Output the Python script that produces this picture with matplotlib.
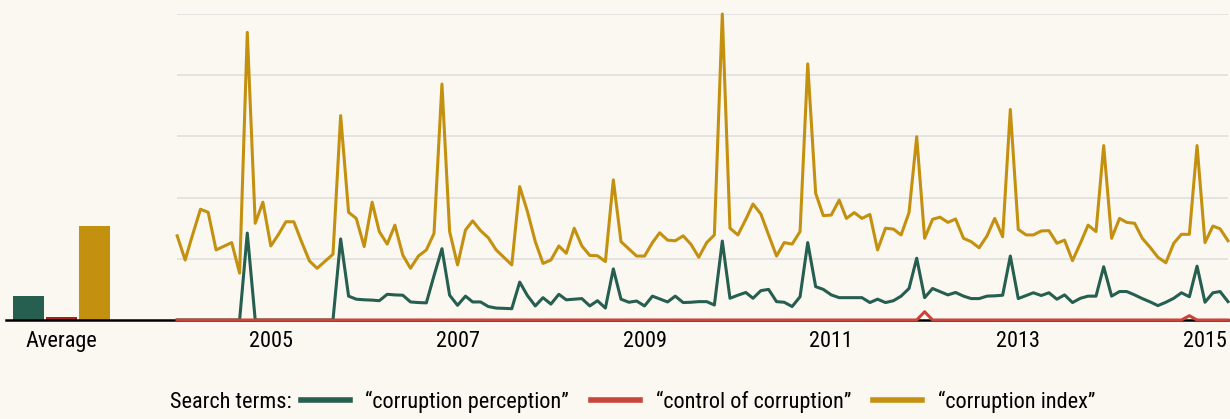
import numpy as np
import pandas as pd
import matplotlib
matplotlib.use("Agg")
import matplotlib.pyplot as plt
from matplotlib import font_manager

# Monthly search interest, Jan 2004 - Apr 2015 (0-100 scale)
months = pd.date_range("2004-01-01", periods=136, freq="MS")

corruption_index = [
    27.5, 19.6, 27.8, 36.2, 35.2, 22.9, 24.1, 25.3, 15.3, 94.0, 31.6, 38.5,
    24.2, 28.1, 32.1, 32.1, 25.6, 19.3, 16.9, 19.2, 21.5, 66.8, 35.2, 33.2,
    24.0, 38.5, 28.9, 24.8, 31.0, 21.2, 16.9, 20.9, 22.9, 28.3, 77.1, 28.9,
    18.0, 29.4, 32.4, 29.2, 26.9, 22.9, 20.5, 18.0, 43.6, 35.5, 25.6, 18.5,
    19.6, 24.2, 21.8, 30.0, 24.2, 21.1, 21.0, 19.1, 45.8, 25.6, 23.2, 20.9,
    20.9, 25.3, 28.5, 26.1, 25.9, 27.5, 24.8, 20.5, 25.3, 27.8, 100.0, 30.0,
    27.8, 32.9, 37.9, 34.6, 27.8, 20.9, 25.3, 24.8, 28.9, 83.7, 41.4, 34.1,
    34.3, 39.2, 33.2, 35.1, 33.2, 34.5, 22.9, 30.0, 29.7, 27.8, 35.1, 59.9,
    26.7, 32.9, 33.6, 31.9, 33.0, 26.7, 25.6, 23.6, 27.5, 33.2, 27.2, 68.8,
    29.6, 27.8, 27.8, 29.1, 29.2, 25.1, 26.1, 19.4, 25.1, 31.0, 28.9, 57.0,
    26.7, 33.2, 31.9, 31.6, 26.7, 23.7, 20.5, 18.7, 25.1, 28.0, 28.0, 57.0,
    25.3, 30.7, 29.8, 25.9,
]

corruption_perception = [
    0, 0, 0, 0, 0, 0, 0, 0, 0, 28.4, 0, 0,
    0, 0, 0, 0, 0, 0, 0, 0, 0, 26.5, 7.8, 6.8,
    6.6, 6.5, 6.3, 8.4, 8.2, 8.1, 5.9, 5.7, 5.6, 14.5, 23.3, 8.1,
    4.8, 7.8, 5.9, 5.9, 4.4, 3.9, 3.8, 3.7, 12.4, 8.0, 4.6, 7.3,
    5.2, 8.4, 6.6, 6.8, 7.0, 4.6, 6.3, 3.9, 16.7, 6.8, 5.8, 6.2,
    4.6, 7.8, 6.9, 5.9, 7.8, 5.7, 5.8, 6.0, 6.0, 4.9, 25.8, 7.1,
    8.1, 9.0, 7.1, 9.6, 10.0, 6.0, 5.8, 4.4, 7.6, 25.3, 10.9, 10.0,
    8.2, 7.3, 7.3, 7.3, 7.3, 5.7, 6.8, 5.7, 6.3, 7.8, 10.3, 20.2,
    7.3, 10.3, 9.3, 8.2, 9.0, 7.8, 7.0, 7.0, 7.8, 7.9, 8.1, 20.9,
    7.0, 8.0, 8.9, 8.0, 8.9, 6.8, 8.2, 5.7, 7.1, 7.8, 7.8, 17.4,
    7.8, 9.3, 9.3, 8.2, 7.0, 5.9, 4.7, 5.8, 7.1, 8.9, 7.6, 17.6,
    5.8, 8.9, 9.3, 6.0,
]

control_of_corruption = [0.0] * 136
control_of_corruption[96] = 2.7
control_of_corruption[130] = 1.4

# averages shown in the small left panel
avg_labels = ["perception", "control", "index"]
avg_values = [7.8, 1.1, 30.7]

year_ticks = [2005, 2007, 2009, 2011, 2013, 2015]

bg = "#fbf8f2"
green = "#265e50"
red = "#c9443a"
red_bar = "#a5231d"
gold = "#c49010"


# look for a condensed / narrow sans face, the original uses one
def pick_narrow_font():
    prefs = ["Roboto Condensed", "Open Sans Condensed", "Noto Sans", "DejaVu Sans",
             "Liberation Sans Narrow", "Roboto", "Open Sans"]
    found = []
    for f in font_manager.fontManager.ttflist:
        narrow = (str(f.stretch) in ("condensed", "semi-condensed", "extra-condensed")
                  or "Condensed" in f.name or "Narrow" in f.name
                  or "Condensed" in f.fname or "Narrow" in f.fname)
        if not narrow or f.style != "normal":
            continue
        if f.weight not in (400, "normal", "regular", "book"):
            continue
        rank = len(prefs)
        for i, p in enumerate(prefs):
            if f.name.startswith(p):
                rank = i
                break
        if "Mono" in f.name or "Serif" in f.name:
            rank += 20
        found.append((rank, f.fname))
    if not found:
        return None
    found.sort()
    return found[0][1]


narrow_path = pick_narrow_font()
if narrow_path:
    fp = font_manager.FontProperties(fname=narrow_path, size=16)
else:
    fp = font_manager.FontProperties(family="DejaVu Sans", size=13)

fig = plt.figure(figsize=(12.3, 4.19), dpi=100, facecolor=bg)

bottom = 99 / 419
height = 306 / 419

# left panel: averages
ax0 = fig.add_axes([6 / 1230, bottom, 171.2 / 1230, height], facecolor=bg)
ax0.bar(range(3), avg_values, width=0.94, color=[green, red_bar, gold], zorder=2)
ax0.set_xlim(-0.68, 4.51)
ax0.set_ylim(0, 100)
ax0.set_xticks([1])
ax0.set_xticklabels(["Average"], fontproperties=fp)
ax0.set_yticks([])
ax0.tick_params(axis="x", length=0, pad=8)
for s in ["top", "right", "left"]:
    ax0.spines[s].set_visible(False)
ax0.spines["bottom"].set_color("black")
ax0.spines["bottom"].set_linewidth(1.8)
ax0.spines["bottom"].set_zorder(3)

# main panel: monthly lines
ax = fig.add_axes([177.2 / 1230, bottom, (1228 - 177.2) / 1230, height], facecolor=bg)
lw = 2.2
ax.plot(months, corruption_perception, color=green, lw=lw, zorder=3,
        clip_on=False, label="\u201ccorruption perception\u201d")
ax.plot(months, control_of_corruption, color=red, lw=lw, zorder=4,
        clip_on=False, label="\u201ccontrol of corruption\u201d")
ax.plot(months, corruption_index, color=gold, lw=lw, zorder=3,
        clip_on=False, label="\u201ccorruption index\u201d")

ax.set_xlim(months[0], months[-1])
ax.set_ylim(0, 100)
ax.set_yticks([20, 40, 60, 80, 100])
ax.yaxis.grid(True, color="#dddddd", lw=1.1)
ax.set_axisbelow(True)
ax.tick_params(axis="y", length=0, labelleft=False)
ax.set_xticks([pd.Timestamp(f"{y}-01-01") for y in year_ticks])
ax.set_xticklabels([str(y) for y in year_ticks], fontproperties=fp)
ax.tick_params(axis="x", length=0, pad=8)
for s in ["top", "right", "left"]:
    ax.spines[s].set_visible(False)
ax.spines["bottom"].set_color("black")
ax.spines["bottom"].set_linewidth(1.8)
ax.spines["bottom"].set_zorder(2.5)

# legend
fig.text(170 / 1230, 17 / 419, "Search terms:", fontproperties=fp, va="center", ha="left")
handles, labels = ax.get_legend_handles_labels()
leg = fig.legend(handles, labels, loc="center left", bbox_to_anchor=(301 / 1230, 17 / 419),
                 ncol=3, frameon=False, prop=fp, handlelength=2.2,
                 handletextpad=0.7, columnspacing=1.0, borderpad=0, borderaxespad=0)
for line in leg.get_lines():
    line.set_linewidth(4)

fig.savefig("out.png", dpi=100, facecolor=bg)
